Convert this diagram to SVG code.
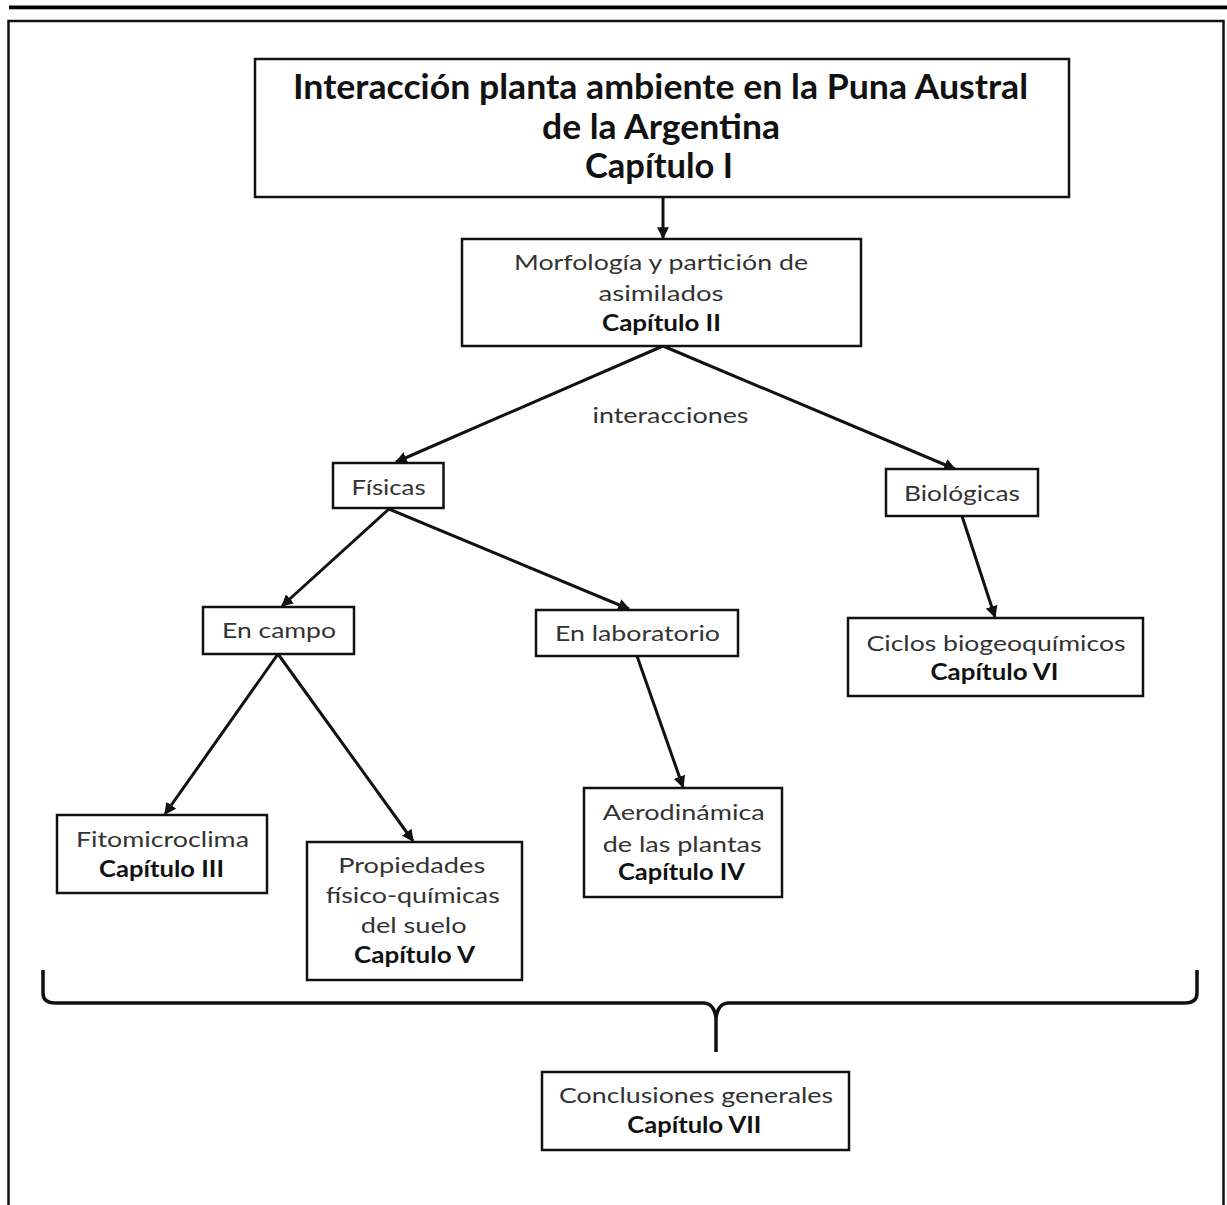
<svg xmlns="http://www.w3.org/2000/svg" width="1227" height="1205" viewBox="0 0 1227 1205">
<defs>
<style>
.box{fill:#fff;stroke:#111;stroke-width:2.5}
.t{font-family:Lato,"Liberation Sans",sans-serif;font-size:22px;fill:#333;text-anchor:middle}
.b{font-weight:bold;fill:#111}
.title{font-family:Lato,"Liberation Sans",sans-serif;font-size:34px;font-weight:bold;fill:#111;text-anchor:middle}
.c{stroke:#111;stroke-width:3;fill:none;marker-end:url(#ah)}
</style>
<marker id="ah" viewBox="0 0 10 10" refX="9" refY="5" markerWidth="4" markerHeight="4" orient="auto" markerUnits="strokeWidth">
<path d="M0,0 L10,5 L0,10 z" fill="#111"/>
</marker>
</defs>
<rect width="1227" height="1205" fill="#fff"/>
<rect x="9" y="5.5" width="1218" height="3.8" fill="#000"/>
<rect x="8.5" y="21" width="1215" height="1200" fill="none" stroke="#111" stroke-width="2.5"/>

<g id="connectors">
<line class="c" x1="663" y1="197" x2="663" y2="238"/>
<line class="c" x1="663" y1="346" x2="396" y2="462"/>
<line class="c" x1="663" y1="346" x2="955" y2="469"/>
<line class="c" x1="389" y1="509" x2="282" y2="606"/>
<line class="c" x1="389" y1="509" x2="629" y2="609"/>
<line class="c" x1="962" y1="516" x2="995" y2="617"/>
<line class="c" x1="278" y1="654" x2="165" y2="814"/>
<line class="c" x1="278" y1="654" x2="413" y2="841"/>
<line class="c" x1="637" y1="656" x2="683" y2="787"/>
<path d="M43,970 L43,993 Q43,1003 55,1003 L703,1003 Q714,1003 716,1018 L716,1052 M1197,970 L1197,993 Q1197,1003 1185,1003 L729,1003 Q718,1003 716,1018" fill="none" stroke="#111" stroke-width="3.5"/>
</g>

<g id="title">
<rect class="box" x="255" y="59" width="814" height="138"/>
<text class="title" x="660.5" y="99" textLength="735" lengthAdjust="spacingAndGlyphs">Interacción planta ambiente en la Puna Austral</text>
<text class="title" x="661" y="139" textLength="238" lengthAdjust="spacingAndGlyphs">de la Argentina</text>
<text class="title" x="659" y="178" textLength="148" lengthAdjust="spacingAndGlyphs">Capítulo I</text>
</g>

<g id="morfologia">
<rect class="box" x="462" y="239" width="399" height="107"/>
<text class="t" x="661" y="270" textLength="294" lengthAdjust="spacingAndGlyphs">Morfología y partición de</text>
<text class="t" x="661" y="300.5" textLength="125" lengthAdjust="spacingAndGlyphs">asimilados</text>
<text class="t b" x="661.5" y="330.5" textLength="119" lengthAdjust="spacingAndGlyphs">Capítulo II</text>
</g>

<g id="interacciones">
<text class="t" x="670.5" y="423" textLength="156" lengthAdjust="spacingAndGlyphs">interacciones</text>
</g>

<g id="fisicas">
<rect class="box" x="333" y="463" width="110.5" height="45"/>
<text class="t" x="388.6" y="495" textLength="74" lengthAdjust="spacingAndGlyphs">Físicas</text>
</g>

<g id="biologicas">
<rect class="box" x="886" y="469" width="152" height="47"/>
<text class="t" x="962" y="500.7" textLength="116" lengthAdjust="spacingAndGlyphs">Biológicas</text>
</g>

<g id="ciclos">
<rect class="box" x="848" y="618" width="295" height="78"/>
<text class="t" x="996" y="650.7" textLength="259" lengthAdjust="spacingAndGlyphs">Ciclos biogeoquímicos</text>
<text class="t b" x="994.5" y="680" textLength="128" lengthAdjust="spacingAndGlyphs">Capítulo VI</text>
</g>

<g id="en-campo">
<rect class="box" x="203" y="607" width="151" height="47"/>
<text class="t" x="279" y="638" textLength="114" lengthAdjust="spacingAndGlyphs">En campo</text>
</g>

<g id="en-laboratorio">
<rect class="box" x="536" y="610" width="202" height="46"/>
<text class="t" x="637.5" y="640.7" textLength="165" lengthAdjust="spacingAndGlyphs">En laboratorio</text>
</g>

<g id="fitomicroclima">
<rect class="box" x="57" y="815" width="210" height="78"/>
<text class="t" x="162.5" y="847" textLength="173" lengthAdjust="spacingAndGlyphs">Fitomicroclima</text>
<text class="t b" x="161.5" y="877" textLength="125" lengthAdjust="spacingAndGlyphs">Capítulo III</text>
</g>

<g id="propiedades">
<rect class="box" x="307" y="842" width="215" height="138"/>
<text class="t" x="411.7" y="873" textLength="147" lengthAdjust="spacingAndGlyphs">Propiedades</text>
<text class="t" x="412.8" y="903" textLength="174" lengthAdjust="spacingAndGlyphs">físico-químicas</text>
<text class="t" x="413.7" y="933" textLength="106" lengthAdjust="spacingAndGlyphs">del suelo</text>
<text class="t b" x="414.5" y="963" textLength="121" lengthAdjust="spacingAndGlyphs">Capítulo V</text>
</g>

<g id="aerodinamica">
<rect class="box" x="584" y="788" width="198" height="109"/>
<text class="t" x="683.8" y="820" textLength="162" lengthAdjust="spacingAndGlyphs">Aerodinámica</text>
<text class="t" x="682.2" y="852" textLength="159" lengthAdjust="spacingAndGlyphs">de las plantas</text>
<text class="t b" x="681.5" y="880" textLength="127" lengthAdjust="spacingAndGlyphs">Capítulo IV</text>
</g>

<g id="conclusiones">
<rect class="box" x="542" y="1072" width="307" height="78"/>
<text class="t" x="696" y="1103" textLength="274" lengthAdjust="spacingAndGlyphs">Conclusiones generales</text>
<text class="t b" x="694.3" y="1133" textLength="134" lengthAdjust="spacingAndGlyphs">Capítulo VII</text>
</g>
</svg>
